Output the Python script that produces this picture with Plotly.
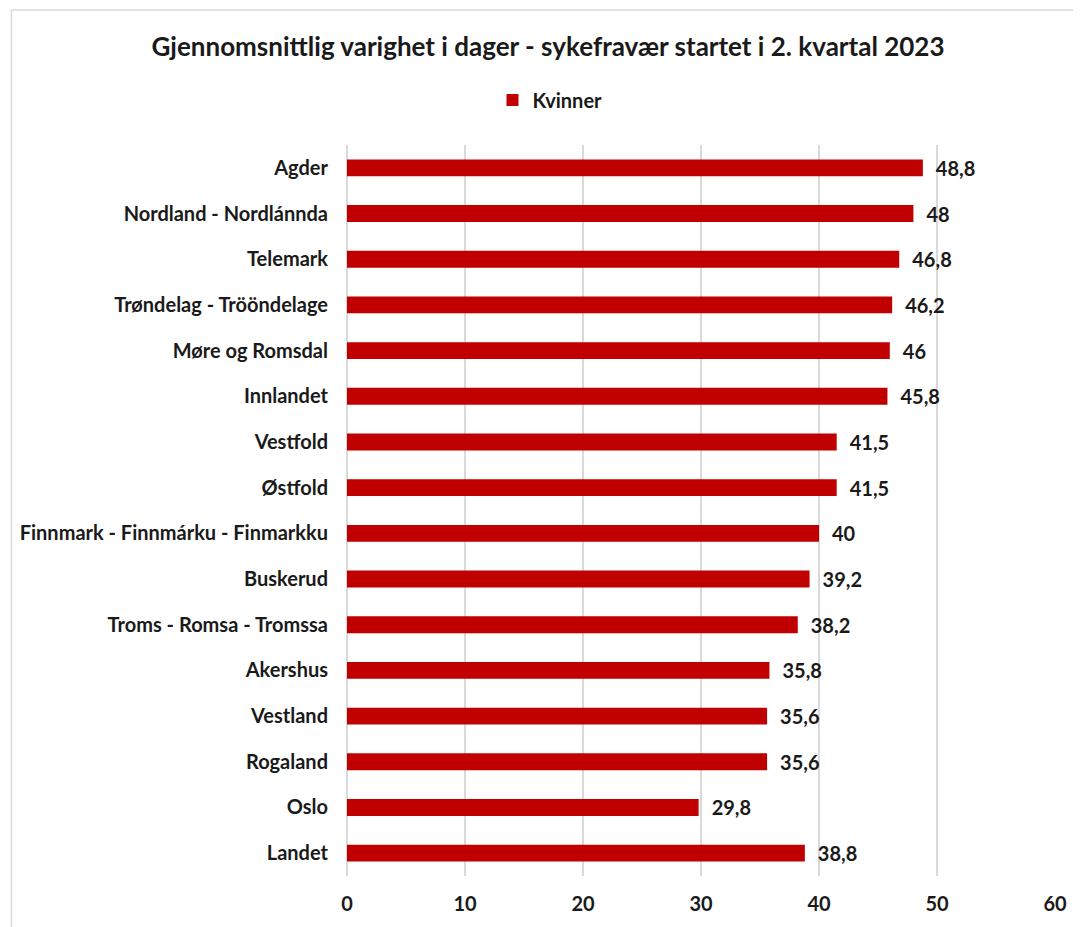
import plotly.graph_objects as go

# ---------------------------------------------------------------
# Data
# ---------------------------------------------------------------
regions = [
    "Agder",
    "Nordland - Nordlánnda",
    "Telemark",
    "Trøndelag - Trööndelage",
    "Møre og Romsdal",
    "Innlandet",
    "Vestfold",
    "Østfold",
    "Finnmark - Finnmárku - Finmarkku",
    "Buskerud",
    "Troms - Romsa - Tromssa",
    "Akershus",
    "Vestland",
    "Rogaland",
    "Oslo",
    "Landet",
]
kvinner = [48.8, 48, 46.8, 46.2, 46, 45.8, 41.5, 41.5, 40, 39.2, 38.2,
           35.8, 35.6, 35.6, 29.8, 38.8]
x_ticks = [0, 10, 20, 30, 40, 50, 60]

TITLE = "Gjennomsnittlig varighet i dager - sykefravær startet i 2. kvartal 2023"
FONT = "Lato, Calibri, 'Open Sans', sans-serif"
RED = "#C00000"
INK = "#1a1a1a"

# the page body has an 8px margin, so the figure is made 8px smaller
W, H = 1073, 919

# Norwegian decimal comma for the data labels
labels = [("\u2002" + f"{v:g}".replace(".", ",")) for v in kvinner]

fig = go.Figure(go.Bar(
    x=kvinner,
    y=regions,
    orientation="h",
    name="Kvinner",
    marker=dict(color=RED, line=dict(width=0)),
    text=labels,
    textposition="outside",
    constraintext="none",
    cliponaxis=False,
    textfont=dict(family=FONT, size=20, color=INK, weight="bold"),
))

fig.update_layout(
    width=W,
    height=H,
    margin=dict(l=337, r=26, t=137, b=51),
    paper_bgcolor="white",
    plot_bgcolor="white",
    font=dict(family=FONT, color=INK),
    bargap=0.63,
    title=dict(
        text=f"<b>{TITLE}</b>",
        x=540 / W, xanchor="center", xref="container",
        y=1 - 39 / H, yanchor="middle", yref="container",
        font=dict(family=FONT, size=26, color=INK),
    ),
    showlegend=True,
    legend=dict(
        orientation="h",
        xref="container", yref="container",
        x=542 / W, xanchor="center",
        y=1 - 92 / H, yanchor="middle",
        font=dict(family=FONT, size=20, color=INK, weight="bold"),
        itemwidth=30,
    ),
    shapes=[
        # thin chart frame (top and left edges)
        dict(type="line", xref="paper", yref="paper",
             x0=-0.4739, x1=1.2, y0=1 + 135 / 731, y1=1 + 135 / 731,
             line=dict(color="#d9d9d9", width=1.5)),
        dict(type="line", xref="paper", yref="paper",
             x0=-0.4739, x1=-0.4739, y0=-0.2, y1=1 + 135 / 731,
             line=dict(color="#d9d9d9", width=1.5)),
    ],
)

fig.update_xaxes(
    range=[0, 60],
    tickvals=x_ticks,
    showgrid=True,
    gridcolor="#d9d9d9",
    gridwidth=1.5,
    zeroline=True,
    zerolinecolor="#d9d9d9",
    zerolinewidth=1.5,
    showline=False,
    ticks="",
    ticklabelstandoff=14,
    tickfont=dict(family=FONT, size=20, color=INK, weight="bold"),
)

fig.update_yaxes(
    autorange="reversed",
    showgrid=False,
    showline=False,
    ticks="",
    ticklabelstandoff=18,
    tickfont=dict(family=FONT, size=20, color=INK, weight="bold"),
)

fig.write_html("out.html")
